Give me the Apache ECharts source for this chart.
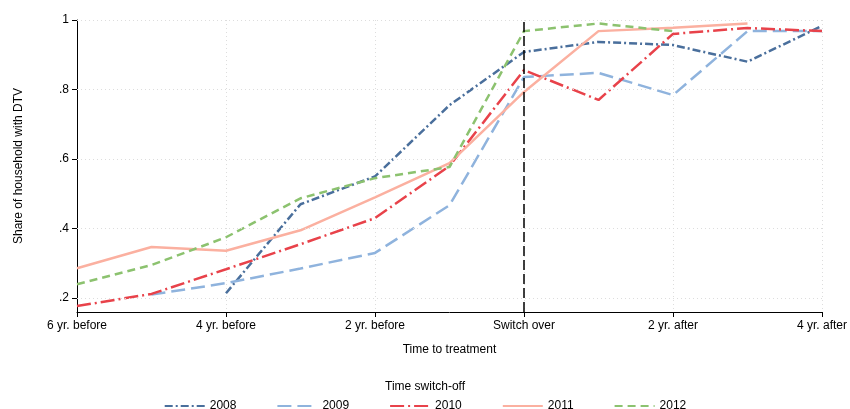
<!DOCTYPE html>
<html><head><meta charset="utf-8">
<script src="https://cdn.jsdelivr.net/npm/echarts@6/dist/echarts.min.js"></script>
<style>body{margin:0;background:#fff}#c{width:850px;height:409px}</style>
</head><body><div id="c"></div>
<script>
// time to treatment (years relative to switch over)
const xs = [-6, -5, -4, -3, -2, -1, 0, 1, 2, 3, 4];
const xLabels = {'-6': '6 yr. before', '-4': '4 yr. before', '-2': '2 yr. before', '0': 'Switch over', '2': '2 yr. after', '4': '4 yr. after'};
const yTicks = [0.2, 0.4, 0.6, 0.8, 1];
const s2008 = [null, null, 0.214, 0.47, 0.55, 0.755, 0.908, 0.937, 0.928, 0.88, 0.983];
const s2009 = [null, 0.21, 0.243, 0.285, 0.33, 0.467, 0.836, 0.848, 0.784, 0.968, 0.968];
const s2010 = [0.177, 0.212, 0.283, 0.355, 0.43, 0.58, 0.856, 0.77, 0.96, 0.977, 0.968];
const s2011 = [0.286, 0.347, 0.336, 0.395, 0.49, 0.588, 0.793, 0.968, 0.978, 0.99, null];
const s2012 = [0.24, 0.295, 0.375, 0.487, 0.545, 0.577, 0.968, 0.99, 0.968, null, null];

const defs = [
  ['2008', s2008, '#4a6f9c', [8, 3, 2, 3]],
  ['2009', s2009, '#8fb3dd', [14, 6]],
  ['2010', s2010, '#e8424a', [14, 4, 2, 4]],
  ['2011', s2011, '#fbb0a0', 'solid'],
  ['2012', s2012, '#8cc26f', [8, 5]]
];
const series = defs.map(function (d) {
  return {
    name: d[0], type: 'line', symbol: 'none', connectNulls: false,
    data: xs.map(function (x, i) { return d[1][i] == null ? null : [x, d[1][i]]; }).filter(Boolean),
    lineStyle: {color: d[2], width: 2.5, type: d[3]},
    itemStyle: {color: d[2]}
  };
});
series[0].markLine = {
  silent: true, symbol: 'none', label: {show: false},
  data: yTicks.map(function (v) { return {yAxis: v, lineStyle: {color: '#ddd', type: [1, 3], width: 1}}; })
    .concat([{xAxis: 0, lineStyle: {color: '#000', type: [10, 4], width: 1.5}}])
};

const chart = echarts.init(document.getElementById('c'));
chart.setOption({
  animation: false,
  textStyle: {fontFamily: 'Liberation Sans, Arial, sans-serif'},
  grid: {left: 77, right: 28, top: 20, height: 292},
  xAxis: {
    type: 'value', min: -6, max: 4, interval: 2,
    name: 'Time to treatment', nameLocation: 'middle', nameGap: 32,
    nameTextStyle: {color: '#000', fontSize: 12},
    axisLine: {onZero: false, lineStyle: {color: '#000'}}, axisTick: {length: 5, lineStyle: {color: '#000'}},
    axisLabel: {color: '#000', fontSize: 12, formatter: function (v) { return xLabels[v] || ''; }},
    splitLine: {show: true, lineStyle: {color: '#ddd', type: [1, 3]}}
  },
  yAxis: {
    type: 'value', min: 0.16, max: 1,
    name: 'Share of household with DTV', nameLocation: 'middle', nameGap: 52,
    nameTextStyle: {color: '#000', fontSize: 12},
    axisLine: {show: true, onZero: false, lineStyle: {color: '#000'}},
    axisTick: {show: true, length: 5, customValues: yTicks, lineStyle: {color: '#000'}},
    axisLabel: {color: '#000', fontSize: 12, customValues: yTicks,
      formatter: function (v) { return v === 1 ? '1' : String(Math.round(v * 10) / 10).replace('0.', '.'); }},
    splitLine: {show: false}
  },
  title: {text: 'Time switch-off', left: 'center', top: 376, textStyle: {fontSize: 12, fontWeight: 'normal', color: '#000'}},
  legend: {
    top: 395, left: 'center', itemWidth: 40, itemHeight: 12, itemGap: 40,
    itemStyle: {opacity: 0},
    textStyle: {fontSize: 12, color: '#000'},
    data: defs.map(function (d) { return d[0]; })
  },
  series: series
});
</script></body></html>
